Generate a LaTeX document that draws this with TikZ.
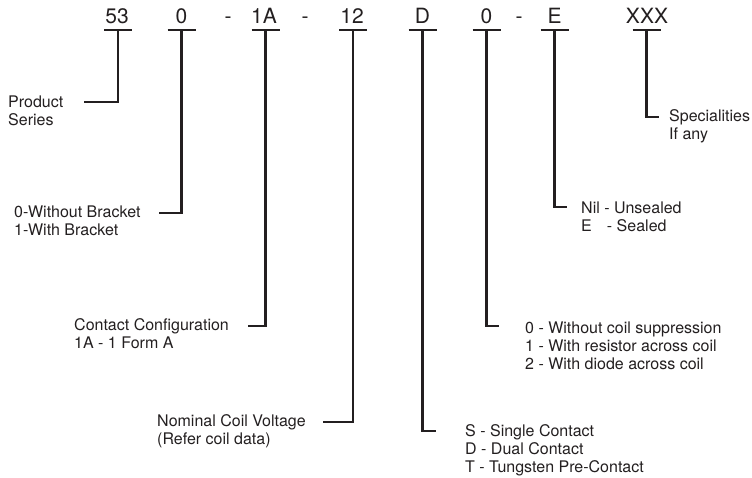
\documentclass[tikz,border=0pt]{standalone}
\usepackage{fontspec}
\setmainfont{TeX Gyre Heros}
\definecolor{ink}{HTML}{231F20}
\begin{document}
\begin{tikzpicture}[x=1pt,y=-1pt,
  code/.style={anchor=base, inner sep=0pt, font=\fontsize{21}{24}\selectfont, text=ink},
  desc/.style={anchor=base west, inner sep=0pt, font=\fontsize{16}{18}\selectfont, text=ink},
  conn/.style={draw=ink, line width=2.6pt},
  barline/.style={draw=ink, line width=2.6pt}]
\useasboundingbox (0,0) rectangle (752,478);
% code letters
\node[code] (c1) at (117,24) {53};
\node[code] (c2) at (181.5,24) {0};
\node[code] (h1) at (228,24) {-};
\node[code] (c3) at (264,24) {1A};
\node[code] (h2) at (305,24) {-};
\node[code] (c4) at (352,24) {12};
\node[code] (c5) at (422.5,24) {D};
\node[code] (c6) at (486.5,24) {0};
\node[code] (h3) at (519,24) {-};
\node[code] (c7) at (554.5,24) {E};
\node[code] (c8) at (647,24) {XXX};
% bar centres
\foreach \i/\xx in {1/118,2/181.5,3/265.5,4/353,5/422.5,6/486.5,7/554.5,8/646.5}{
  \coordinate (b\i) at (\xx,30);
  \draw[barline] ([xshift=-14pt]b\i) -- ([xshift=14pt]b\i);
}
% descriptions
\node[desc] (d1) at (8,108) {Product};
\node[desc] (d1b) at (8,126) {Series};
\node[desc] (d2) at (14,218) {0-Without Bracket};
\node[desc] (d2b) at (14,236) {1-With Bracket};
\node[desc] (d3) at (74,330) {Contact Configuration};
\node[desc] (d3b) at (74,348) {1A - 1 Form A};
\node[desc] (d4) at (157,426) {Nominal Coil Voltage};
\node[desc] (d4b) at (157,444) {(Refer coil data)};
\node[desc] (d5) at (465,436) {S - Single Contact};
\node[desc] (d5b) at (465,454) {D - Dual Contact};
\node[desc] (d5c) at (465,472) {T - Tungsten Pre-Contact};
\node[desc] (d6) at (525,333) {0 - Without coil suppression};
\node[desc] (d6b) at (525,351) {1 - With resistor across coil};
\node[desc] (d6c) at (525,369) {2 - With diode across coil};
\node[desc] (d7) at (581,214) {Nil - Unsealed};
\node[desc] (d7b) at (581,232) {\rlap{E}\phantom{Nil}\ \,- Sealed};
\node[desc] (d8) at (669,122) {Specialities};
\node[desc] (d8b) at (669,140) {If any};
% elbow ends
\coordinate (e1) at (84,102);
\coordinate (e2) at (159,213);
\coordinate (e3) at (248,326);
\coordinate (e4) at (323,422);
\coordinate (e5) at (436,431);
\coordinate (e6) at (499,326);
\coordinate (e7) at (567,207);
\coordinate (e8) at (659,117);
\foreach \i in {1,...,8}{ \draw[conn] (b\i) |- (e\i); }
\end{tikzpicture}
\end{document}
